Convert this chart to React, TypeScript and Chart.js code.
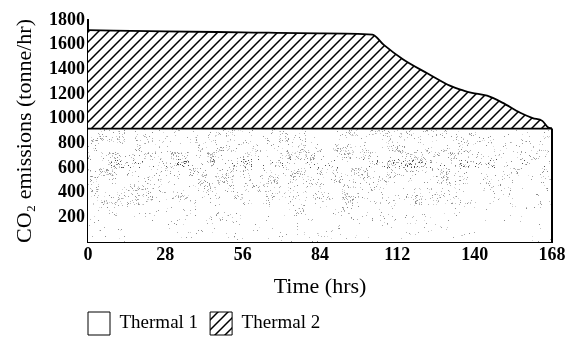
import React, { useEffect, useRef } from "react";
import { Chart, registerables } from "chart.js";

Chart.register(...registerables);

// Time (hrs)
const hours = [0, 28, 56, 84, 103, 107, 114, 123, 131, 136, 139, 144.5, 150, 156.5, 161, 164.5, 166.5, 168];
// Thermal 1 CO2 emissions (tonne/hr)
const thermal1 = [920, 920, 920, 920, 920, 920, 920, 920, 920, 920, 920, 920, 920, 920, 920, 920, 920, 920];
// Thermal 2 CO2 emissions (tonne/hr), stacked on top of Thermal 1
const thermal2 = [798, 788, 780, 772, 762, 680, 562, 446, 348, 308, 290, 266, 210, 128, 85, 62, 10, 0];

const seriesNames = ["Thermal 1", "Thermal 2"];
const xTickStep = 28;
const yTickStep = 200;
const xMax = 168;
const yMax = 1800;

const W = 575;
const H = 337;
const SERIF = "'Liberation Serif', 'Times New Roman', serif";
const LEGEND_PAD = 12;

function hash(x: number, y: number): number {
  let h = (Math.imul(x, 374761393) + Math.imul(y, 668265263)) | 0;
  h = Math.imul(h ^ (h >>> 13), 1274126177);
  h ^= h >>> 16;
  return (h >>> 0) / 4294967296;
}

function makeHatch(): CanvasPattern | string {
  const s = 10;
  const c = document.createElement("canvas");
  c.width = s;
  c.height = s;
  const g = c.getContext("2d");
  if (!g) return "#fff";
  g.fillStyle = "#fff";
  g.fillRect(0, 0, s, s);
  g.strokeStyle = "#000";
  g.lineWidth = 1.5;
  g.beginPath();
  g.moveTo(0, s);
  g.lineTo(s, 0);
  g.moveTo(-1, 1);
  g.lineTo(1, -1);
  g.moveTo(s - 1, s + 1);
  g.lineTo(s + 1, s - 1);
  g.stroke();
  return g.createPattern(c, "repeat") || "#fff";
}

function makeStipple(): CanvasPattern | string {
  const c = document.createElement("canvas");
  c.width = W;
  c.height = H;
  const g = c.getContext("2d");
  if (!g) return "#fff";
  const img = g.createImageData(W, H);
  for (let y = 0; y < H; y++) {
    let d = 0.015;
    if (y >= 128 && y < 150) d = 0.07;
    else if (y >= 150 && y < 178) d = 0.12;
    else if (y >= 178 && y < 205) d = 0.085;
    else if (y >= 205 && y < 225) d = 0.03;
    for (let x = 0; x < W; x++) {
      let dd = d;
      if (x > 470) dd *= 0.4;
      const cell = hash(Math.floor(x / 9) + 500, Math.floor(y / 8) + 900);
      dd *= cell * cell * 2.6;
      const r = hash(x, y);
      const i = (y * W + x) * 4;
      let v = 255;
      if (r < dd) {
        v = 135 + Math.floor(hash(y + 7, x + 3) * 90);
        if (y > 158 && y < 168 && hash(x + 11, y + 5) < 0.3) v = 80;
      }
      img.data[i] = v;
      img.data[i + 1] = v;
      img.data[i + 2] = v;
      img.data[i + 3] = 255;
    }
  }
  g.putImageData(img, 0, 0);
  return g.createPattern(c, "no-repeat") || "#fff";
}

const edgePlugin = {
  id: "edgePlugin",
  beforeInit(chart: any) {
    const legend = chart.legend;
    if (legend && !legend.__patched) {
      const origFit = legend.fit.bind(legend);
      legend.fit = function () {
        origFit();
        this.height = 26;
      };
      legend.__patched = true;
    }
  },
  afterLayout(chart: any) {
    const legend = chart.legend;
    if (legend) {
      legend.left = chart.chartArea.left - LEGEND_PAD;
      legend.top = 312 - LEGEND_PAD;
    }
  },
  afterDatasetsDraw(chart: any) {
    const { ctx, scales } = chart;
    const xs = scales.x;
    const ys = scales.y;
    const last = hours.length - 1;
    const px = xs.getPixelForValue(hours[last]);
    const top = ys.getPixelForValue(thermal1[last] + thermal2[last]);
    const bottom = ys.getPixelForValue(0);
    ctx.save();
    ctx.strokeStyle = "#000";
    ctx.lineWidth = 2;
    ctx.beginPath();
    ctx.moveTo(px, top);
    ctx.lineTo(px, bottom);
    ctx.stroke();
    ctx.restore();
  },
};

export default function App() {
  const ref = useRef<HTMLCanvasElement | null>(null);

  useEffect(() => {
    const canvas = ref.current;
    if (!canvas) return;
    const hatch = makeHatch();
    const stipple = makeStipple();

    const chart = new Chart(canvas, {
      type: "line",
      data: {
        labels: hours,
        datasets: [
          {
            label: seriesNames[0],
            data: hours.map((h, i) => ({ x: h, y: thermal1[i] })),
            backgroundColor: stipple as any,
            borderColor: "#000",
            borderWidth: 1.8,
            fill: "origin",
            pointRadius: 0,
            tension: 0,
          },
          {
            label: seriesNames[1],
            data: hours.map((h, i) => ({ x: h, y: thermal2[i] })),
            backgroundColor: hatch as any,
            borderColor: "#000",
            borderWidth: 1.8,
            fill: "-1",
            pointRadius: 0,
            cubicInterpolationMode: "monotone",
          },
        ],
      },
      options: {
        animation: false,
        responsive: false,
        devicePixelRatio: 1,
        layout: { padding: { left: 0, right: 23, top: 20, bottom: 0 } },
        scales: {
          x: {
            type: "linear",
            min: 0,
            max: xMax,
            grid: { display: false, drawTicks: false },
            border: { display: true, color: "#000", width: 2 },
            ticks: {
              stepSize: xTickStep,
              color: "#000",
              font: { family: SERIF, size: 18, weight: "bold" },
              padding: 3,
              maxRotation: 0,
            },
            title: {
              display: true,
              text: "Time (hrs)",
              color: "#000",
              font: { family: SERIF, size: 22 },
              padding: { top: 4, bottom: 11 },
            },
          },
          y: {
            stacked: true,
            min: 0,
            max: yMax,
            grid: { display: false, drawTicks: false },
            border: { display: true, color: "#000", width: 2 },
            ticks: {
              stepSize: yTickStep,
              color: "#000",
              font: { family: SERIF, size: 18, weight: "bold" },
              padding: 3,
              callback: (v: any) => (v === 0 ? "" : String(v)),
            },
            title: {
              display: true,
              text: "CO₂ emissions (tonne/hr)",
              color: "#000",
              font: { family: SERIF, size: 22 },
              padding: { top: 12, bottom: 0 },
            },
            afterFit: (scale: any) => {
              scale.width = 88;
            },
          },
        },
        plugins: {
          legend: {
            position: "bottom",
            align: "start",
            fullSize: false,
            labels: {
              boxWidth: 22,
              boxHeight: 23,
              padding: LEGEND_PAD,
              color: "#000",
              font: { family: SERIF, size: 19 },
              generateLabels: (c: any) =>
                c.data.datasets.map((ds: any, i: number) => ({
                  text: ds.label,
                  fillStyle: i === 0 ? "#fff" : hatch,
                  strokeStyle: "#000",
                  lineWidth: 1,
                  hidden: false,
                  datasetIndex: i,
                  fontColor: "#000",
                })),
            },
          },
          tooltip: { enabled: false },
        },
      },
      plugins: [edgePlugin],
    });
    return () => chart.destroy();
  }, []);

  return (
    <div style={{ position: "fixed", left: 0, top: 0, width: W, height: H, background: "#fff" }}>
      <canvas ref={ref} width={W} height={H} style={{ width: W, height: H, display: "block" }} />
    </div>
  );
}
